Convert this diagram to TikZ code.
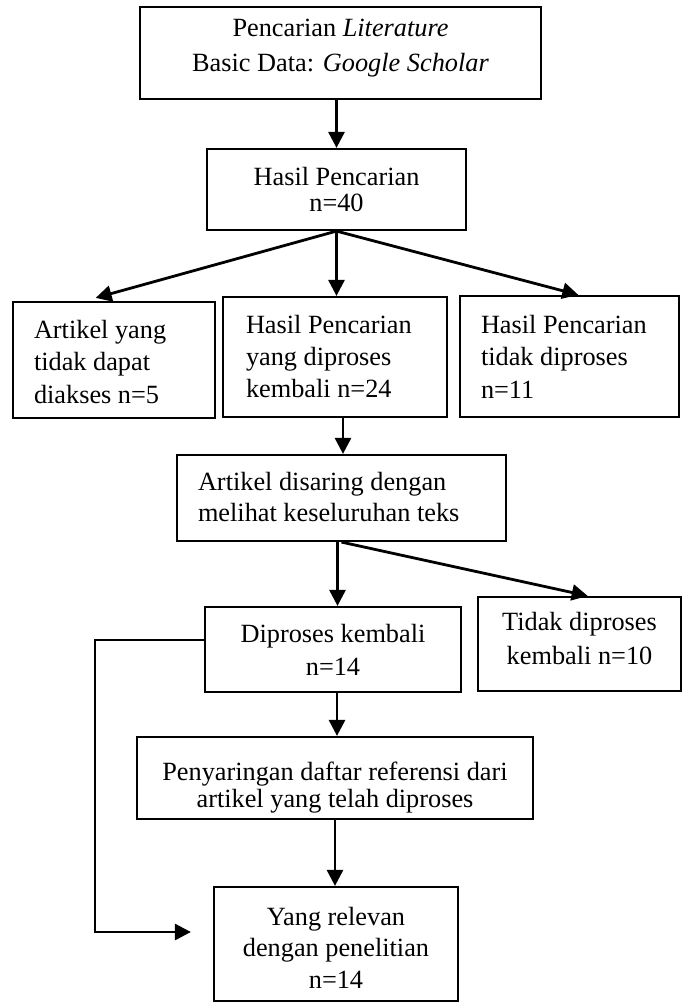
\documentclass[tikz,border=0pt]{standalone}
\usepackage{fontspec}
\setmainfont{Liberation Serif}
\usetikzlibrary{arrows.meta,calc}
\newcommand\bxt[6]{\parbox[c][#2pt][t]{#1pt}{\fontsize{26.3}{#4}\selectfont#5\vspace*{\dimexpr#3pt-0.7\baselineskip\relax}\strut#6}}
\begin{document}
\begin{tikzpicture}[x=1pt,y=-1pt,
  box/.style={draw,line width=2.2pt,inner sep=0pt},
  arr/.style={line width=2.8pt,-{Triangle[length=16pt,width=16pt]}}]
\useasboundingbox (0,0) rectangle (686,1008);
\node[box] (n1) at (340.5,53) {\bxt{401}{92}{30}{35}{\centering}{Pencarian \textit{Literature}\\Basic Data: \textit{Google Scholar}}};
\node[box] (n2) at (336.5,189.5) {\bxt{259}{81}{36}{26}{\centering}{Hasil Pencarian\\n=40}};
\node[box] (nA) at (114,360) {\bxt{202}{116}{36}{32.5}{\raggedright\leftskip=21pt\relax}{Artikel yang\\tidak dapat\\diakses n=5}};
\node[box] (nB) at (335,357) {\bxt{224}{120}{36}{32}{\raggedright\leftskip=23pt\relax}{Hasil Pencarian\\yang diproses\\kembali n=24}};
\node[box] (nC) at (569.5,356.5) {\bxt{219}{121}{37}{32.5}{\raggedright\leftskip=21pt\relax}{Hasil Pencarian\\tidak diproses\\n=11}};
\node[box] (nD) at (341.5,498) {\bxt{329}{86}{35}{31}{\raggedright\leftskip=21pt\relax}{Artikel disaring dengan\\melihat keseluruhan teks}};
\node[box] (nE) at (333,649.5) {\bxt{256}{85}{35}{33}{\centering}{Diproses kembali\\n=14}};
\node[box] (nF) at (579.5,644) {\bxt{203}{94}{33}{34}{\centering}{Tidak diproses\\kembali n=10}};
\node[box] (nG) at (335,778) {\bxt{396}{82}{43}{27}{\centering}{Penyaringan daftar referensi dari\\artikel yang telah diproses}};
\node[box] (nH) at (336,944) {\bxt{244}{114}{38}{31.5}{\centering}{Yang relevan\\dengan penelitian\\n=14}};
\draw[arr] (n2.north |- n1.south) -- (n2.north);
\draw[arr] (n2.south) -- ($(nA.north west)!0.41!(nA.north east)+(0,-3)$);
\draw[arr] (n2.south) -- (n2.south |- nB.north);
\draw[arr] (n2.south) -- ($(nC.north west)!0.54!(nC.north east)$);
\draw[arr] ($(nB.south)+(8,0)$) coordinate (bd) -- (bd |- nD.north);
\draw[arr] ($(nD.south)+(-4,0)$) coordinate (de) -- (de |- nE.north);
\draw[arr] (nD.south) -- ($(nF.north west)!0.54!(nF.north east)$);
\draw[arr] ($(nE.south)+(4,0)$) coordinate (eg) -- (eg |- nG.north);
\draw[arr] (nG.south) -- (nG.south |- nH.north);
\draw[arr] ($(nE.west)+(0,-9.5)$) -- ++(-109,0) |- ($(nH.west)+(-22,-12)$);
\end{tikzpicture}
\end{document}
